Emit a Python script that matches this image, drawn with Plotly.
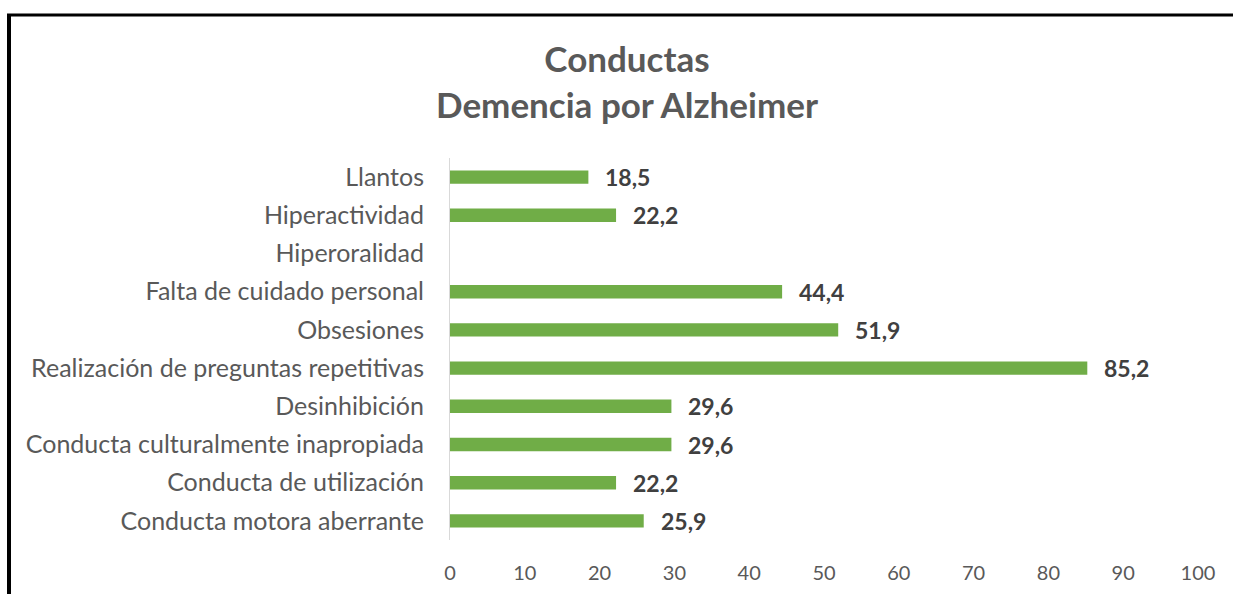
import plotly.graph_objects as go

categories = [
    "Llantos",
    "Hiperactividad",
    "Hiperoralidad",
    "Falta de cuidado personal",
    "Obsesiones",
    "Realización de preguntas repetitivas",
    "Desinhibición",
    "Conducta culturalmente inapropiada",
    "Conducta de utilización",
    "Conducta motora aberrante",
]
values = [18.5, 22.2, None, 44.4, 51.9, 85.2, 29.6, 29.6, 22.2, 25.9]
x_ticks = [0, 10, 20, 30, 40, 50, 60, 70, 80, 90, 100]

W, H = 1233, 594
ML, MR, MT, MB = 450, 35, 158, 54
PW, PH = W - ML - MR, H - MT - MB

def px_to_paper_x(px):
    return (px - ML) / PW

def px_to_paper_y(py):
    return (H - MB - py) / PH

font_family = "Lato, 'Open Sans', sans-serif"

fig = go.Figure(
    go.Bar(
        y=categories,
        x=values,
        orientation="h",
        marker=dict(color="#70AD47", line=dict(width=0)),
        width=0.35,
        hoverinfo="skip",
    )
)

annotations = []
for cat, v in zip(categories, values):
    if v is None:
        continue
    annotations.append(dict(
        x=v, y=cat, xref="x", yref="y",
        text=f"<b>{v:.1f}</b>".replace(".", ","),
        showarrow=False, xanchor="left", yanchor="middle",
        xshift=15, yshift=0,
        font=dict(family=font_family, size=23, color="#404040"),
    ))

fig.update_layout(
    width=W,
    height=H,
    autosize=False,
    margin=dict(l=ML, r=MR, t=MT, b=MB, pad=0, autoexpand=False),
    paper_bgcolor="white",
    plot_bgcolor="white",
    showlegend=False,
    font=dict(family=font_family, color="#595959"),
    title=dict(
        text="<b>Conductas</b><br><b>Demencia por Alzheimer</b>",
        x=627 / W,
        xanchor="center",
        y=1 - 72 / H,
        yanchor="middle",
        font=dict(family=font_family, size=35, color="#595959"),
    ),
    xaxis=dict(
        range=[0, 100],
        tickvals=x_ticks,
        ticktext=[str(t) for t in x_ticks],
        showgrid=False,
        zeroline=False,
        showline=False,
        ticks="",
        automargin=False,
        tickfont=dict(size=20, color="#595959"),
        ticklabelstandoff=19,
    ),
    yaxis=dict(
        categoryorder="array",
        categoryarray=categories[::-1],
        showgrid=False,
        zeroline=False,
        showline=True,
        linecolor="#D9D9D9",
        linewidth=1,
        ticks="",
        automargin=False,
        ticklabelstandoff=20,
        tickfont=dict(size=25, color="#595959"),
    ),
    annotations=annotations,
    shapes=[
        dict(type="line", xref="paper", yref="paper",
             x0=px_to_paper_x(7), x1=px_to_paper_x(1240),
             y0=px_to_paper_y(15), y1=px_to_paper_y(15),
             line=dict(color="black", width=3)),
        dict(type="line", xref="paper", yref="paper",
             x0=px_to_paper_x(9), x1=px_to_paper_x(9),
             y0=px_to_paper_y(14), y1=px_to_paper_y(600),
             line=dict(color="black", width=4)),
    ],
)

fig.write_html(
    "out.html",
    config={"displayModeBar": False},
    post_script="document.body.style.margin='0';",
)
